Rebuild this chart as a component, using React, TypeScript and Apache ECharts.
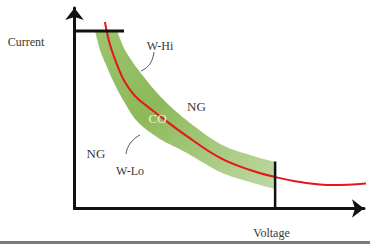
import React, { useEffect, useRef } from "react";
import * as echarts from "echarts";

// Red characteristic curve (voltage, current)
const redCurve: [number, number][] = [
  [10.5, 93.0], [12.3, 81.5], [15.0, 70.6], [17.4, 63.1], [20.9, 56.1],
  [25.0, 51.1], [29.5, 46.1], [38.2, 36.7], [50.3, 25.2], [60.6, 19.2],
  [69.3, 15.7], [77.9, 13.2], [89.3, 11.7], [102.1, 12.7],
];
// Green tolerance band: upper (W-Hi) and lower (W-Lo) edges
const bandUpper: [number, number][] = [
  [14.7, 88.5], [17.1, 80.0], [19.6, 74.1], [22.6, 68.1], [29.5, 56.1],
  [38.2, 44.6], [50.3, 32.2], [60.6, 26.7], [69.3, 23.2],
];
const bandLower: [number, number][] = [
  [7.1, 88.5], [8.8, 79.1], [10.9, 71.6], [14.0, 61.6], [17.4, 52.6],
  [21.9, 43.1], [29.5, 34.7], [38.2, 28.2], [50.3, 18.2], [60.6, 13.2],
  [69.3, 9.7],
];
// Limit lines
const topLimit: [number, number][] = [[0, 88.5], [17.1, 88.5]];
const rightLimit: [number, number][] = [[69.3, 23.5], [69.3, 0]];

const labelTexts = {
  y: "Current",
  x: "Voltage",
  hi: "W-Hi",
  lo: "W-Lo",
  ngRight: "NG",
  ngLeft: "NG",
  co: "CO",
};

function spline(pts: number[][], seg: number): number[][] {
  const out: number[][] = [];
  const n = pts.length;
  for (let i = 0; i < n - 1; i++) {
    const p0 = pts[Math.max(0, i - 1)];
    const p1 = pts[i];
    const p2 = pts[i + 1];
    const p3 = pts[Math.min(n - 1, i + 2)];
    for (let s = 0; s < seg; s++) {
      const t = s / seg;
      const t2 = t * t;
      const t3 = t2 * t;
      const f = (a: number, b: number, c: number, d: number) =>
        0.5 * (2 * b + (-a + c) * t + (2 * a - 5 * b + 4 * c - d) * t2 + (-a + 3 * b - 3 * c + d) * t3);
      out.push([f(p0[0], p1[0], p2[0], p3[0]), f(p0[1], p1[1], p2[1], p3[1])]);
    }
  }
  out.push(pts[n - 1]);
  return out;
}

const FONT = "'Liberation Serif', 'DejaVu Serif', serif";
const TXT = "#383838";

export default function App() {
  const ref = useRef<HTMLDivElement>(null);
  useEffect(() => {
    const chart = echarts.init(ref.current!, null, { renderer: "svg" });
    const axisCommon = {
      type: "value",
      min: 0,
      max: 100,
      axisLine: {
        show: true,
        lineStyle: { color: "#111", width: 3 },
        symbol: ["none", "arrow"],
        symbolSize: [14, 12],
      },
      axisTick: { show: false },
      axisLabel: { show: false },
      splitLine: { show: false },
    };
    const text = (t: string, x: number, y: number, size: number, fill = TXT) => ({
      type: "text",
      x,
      y,
      z: 10,
      style: {
        text: t,
        fontSize: size,
        fontFamily: FONT,
        fill,
        textAlign: "center",
        textVerticalAlign: "middle",
      },
    });
    chart.setOption({
      animation: false,
      grid: { left: 74.5, right: 6, top: 8, bottom: 35.5 },
      xAxis: axisCommon,
      yAxis: axisCommon,
      series: [
        {
          type: "custom",
          coordinateSystem: "cartesian2d",
          data: [[0, 0]],
          clip: false,
          silent: true,
          z: 1,
          renderItem: (_params: any, api: any) => {
            const up = spline(bandUpper.map((p) => api.coord(p)), 10);
            const lo = spline(bandLower.map((p) => api.coord(p)), 10);
            return {
              type: "polygon",
              shape: { points: up.concat(lo.reverse()) },
              style: {
                fill: new echarts.graphic.LinearGradient(0, 0, 1, 1, [
                  { offset: 0, color: "#9cc46d" },
                  { offset: 0.4, color: "#8db959" },
                  { offset: 1, color: "#c0d9a4" },
                ]),
              },
            };
          },
        },
        {
          type: "line",
          data: redCurve,
          smooth: 0.4,
          showSymbol: false,
          clip: false,
          silent: true,
          z: 3,
          lineStyle: { color: "#e8141c", width: 2 },
        },
        {
          type: "line",
          data: topLimit,
          showSymbol: false,
          silent: true,
          z: 4,
          lineStyle: { color: "#111", width: 3 },
        },
        {
          type: "line",
          data: rightLimit,
          showSymbol: false,
          silent: true,
          z: 4,
          lineStyle: { color: "#111", width: 2.5 },
        },
      ],
      graphic: [
        text(labelTexts.y, 26, 42, 12),
        text(labelTexts.hi, 160, 46, 12),
        text(labelTexts.ngRight, 196.5, 106, 13),
        text(labelTexts.co, 157.5, 118, 13, "#eef3c8"),
        text(labelTexts.ngLeft, 96, 153, 13),
        text(labelTexts.lo, 130, 171, 12),
        text(labelTexts.x, 271.5, 232.5, 12),
        {
          type: "bezierCurve",
          z: 10,
          shape: { x1: 141, y1: 71, cpx1: 150, cpy1: 67, cpx2: 153, cpy2: 60, x2: 154, y2: 52 },
          style: { stroke: "#555", lineWidth: 1, fill: null },
        },
        {
          type: "bezierCurve",
          z: 10,
          shape: { x1: 126, y1: 154, cpx1: 127, cpy1: 146, cpx2: 132, cpy2: 139, x2: 140, y2: 135 },
          style: { stroke: "#555", lineWidth: 1, fill: null },
        },
        {
          type: "rect",
          z: 10,
          shape: { x: 0, y: 241, width: 370, height: 3 },
          style: { fill: "#7a7a7a" },
        },
      ],
    });
    return () => chart.dispose();
  }, []);
  return (
    <div
      ref={ref}
      style={{ position: "fixed", left: 0, top: 0, width: 370, height: 244, background: "#fff" }}
    />
  );
}
